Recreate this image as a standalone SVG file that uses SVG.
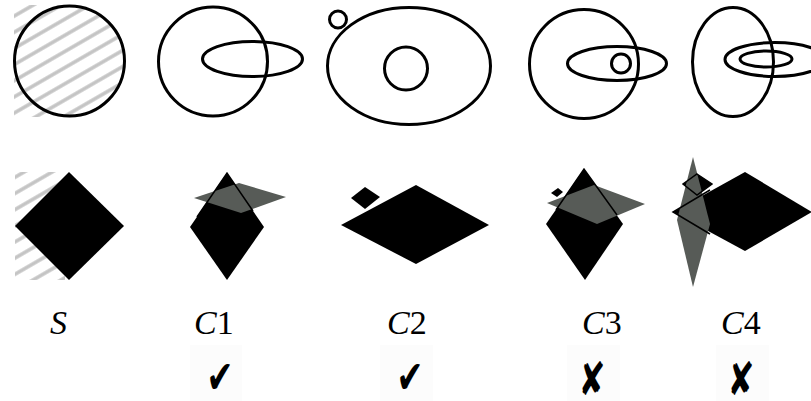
<svg xmlns="http://www.w3.org/2000/svg" width="811" height="401" viewBox="0 0 811 401">
<style>
.o{fill:none;stroke:#000;stroke-width:3}
.b{fill:#000}
.g{fill:#575b57}
.e{fill:none;stroke:#000;stroke-width:1.5}
.lbl{font-family:"Liberation Serif",serif;font-size:34px;fill:#000}
.mk{font-family:"DejaVu Sans",sans-serif;font-size:46px;fill:#000;text-anchor:middle}
</style>
<defs>
<pattern id="hatch" patternUnits="userSpaceOnUse" width="14" height="14" patternTransform="rotate(-30)">
<rect width="14" height="14" fill="#fff"/>
<line x1="0" y1="7" x2="14" y2="7" stroke="#c4c4c4" stroke-width="3.5"/>
</pattern>
<clipPath id="clipTop"><rect x="14" y="5" width="55" height="112"/><circle cx="69.5" cy="61" r="55.5"/></clipPath>
</defs>
<rect width="811" height="401" fill="#fff"/>
<g id="S-top">
<rect x="14" y="5" width="112" height="112" fill="url(#hatch)" clip-path="url(#clipTop)"/>
<circle class="o" cx="69.5" cy="61" r="55"/>
</g>
<g id="C1-top">
<circle class="o" cx="213" cy="61.5" r="54.5"/>
<ellipse class="o" cx="252.5" cy="59" rx="50" ry="17.5"/>
</g>
<g id="C2-top">
<circle class="o" cx="338" cy="19.5" r="8.5"/>
<ellipse class="o" cx="409" cy="66" rx="81.5" ry="58.5"/>
<circle class="o" cx="406" cy="68.5" r="21.5"/>
</g>
<g id="C3-top">
<circle class="o" cx="584" cy="64" r="54.5"/>
<ellipse class="o" cx="617" cy="63.5" rx="49.5" ry="17"/>
<circle class="o" cx="621" cy="63.5" r="9.5"/>
</g>
<g id="C4-top">
<ellipse class="o" cx="733" cy="62" rx="40.5" ry="54.5"/>
<ellipse class="o" cx="775" cy="59.5" rx="50" ry="17"/>
<ellipse class="o" cx="766" cy="59" rx="26" ry="8"/>
</g>
<g id="S-bottom">
<rect x="15" y="172" width="50" height="108" fill="url(#hatch)"/>
<polygon class="b" points="69,172 124,226 69,280 15,226"/>
</g>
<g id="C1-bottom">
<polygon class="b" points="227,173 264,227 227,280 190,227"/>
<polygon class="g" points="194,198 239,183 286,197 241,213"/>
<polyline class="e" points="197,217 227,173 253,211"/>
</g>
<g id="C2-bottom">
<polygon class="b" points="365,187 380,197 365,209 351,198"/>
<polygon class="b" points="416,185 489,225 416,264 341,225"/>
</g>
<g id="C3-bottom">
<polygon class="b" points="558,188 563,192 557,197 551,193"/>
<polygon class="b" points="584,169 623,224 585,280 546,224"/>
<polygon class="g" points="547,203 594,185 645,204 597,224"/>
<polyline class="e" points="556,210 584,169 617,215"/>
</g>
<g id="C4-bottom">
<polygon class="b" points="697,174 712,184 697,195 683,184"/>
<polygon class="b" points="745,172 812,212 745,251 673,212"/>
<polygon class="g" points="693,157 710,224 693,287 677,220"/>
<polygon class="e" points="697,174 712,184 697,195 683,184"/>
<polyline class="e" points="710,190 673,212 710,234"/>
</g>
<g id="labels">
<text class="lbl" x="50" y="334"><tspan font-style="italic">S</tspan></text>
<text class="lbl" x="194" y="334"><tspan font-style="italic">C</tspan>1</text>
<text class="lbl" x="387" y="334"><tspan font-style="italic">C</tspan>2</text>
<text class="lbl" x="582" y="334"><tspan font-style="italic">C</tspan>3</text>
<text class="lbl" x="721" y="334"><tspan font-style="italic">C</tspan>4</text>
</g>
<g id="marks">
<rect x="190" y="345" width="52" height="56" fill="#fcfcfc"/>
<rect x="380" y="345" width="53" height="56" fill="#fcfcfc"/>
<rect x="567" y="345" width="53" height="56" fill="#fcfcfc"/>
<rect x="716" y="345" width="53" height="56" fill="#fcfcfc"/>
<text class="mk" transform="translate(220,393) scale(0.7,1)">✔</text>
<text class="mk" transform="translate(410,393) scale(0.7,1)">✔</text>
<text class="mk" transform="translate(592,395) scale(0.7,1)">✘</text>
<text class="mk" transform="translate(741,395) scale(0.7,1)">✘</text>
</g>
</svg>
